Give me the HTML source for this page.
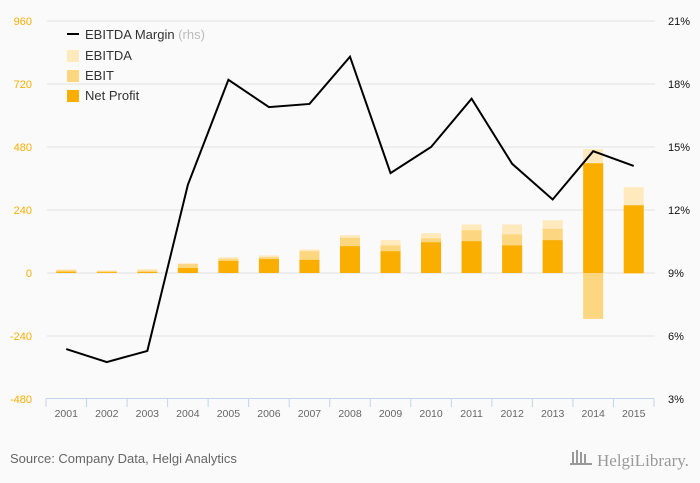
<!DOCTYPE html>
<html><head><meta charset="utf-8"><style>
body{margin:0;background:#fafafa;font-family:"Liberation Sans",sans-serif;}
svg{display:block}
</style></head><body>
<svg id="c" width="700" height="483" font-family="Liberation Sans, sans-serif">
<rect width="700" height="483" fill="#fafafa"/>
<g id="grid"></g><g id="bars"></g><g id="line"></g><g id="axes"></g>
<g>
<line x1="67" y1="34" x2="79" y2="34" stroke="#000" stroke-width="2"/>
<text x="85" y="39" font-size="13" fill="#333">EBITDA Margin <tspan fill="#bbb">(rhs)</tspan></text>
<rect x="67" y="50" width="12" height="12" fill="#ffe9bd"/>
<text x="85" y="60" font-size="13" fill="#333">EBITDA</text>
<rect x="67" y="70" width="12" height="12" fill="#fdd680"/>
<text x="85" y="80" font-size="13" fill="#333">EBIT</text>
<rect x="67" y="90" width="12" height="12" fill="#f9ae00"/>
<text x="85" y="100" font-size="13" fill="#333">Net Profit</text>
</g>
<text x="10" y="463" font-size="13" fill="#666">Source: Company Data, Helgi Analytics</text>
<text x="597" y="466" font-size="17" fill="#999" font-family="Liberation Serif, serif">HelgiLibrary.</text>
<g fill="#999"><rect x="572" y="452" width="2" height="12"/><rect x="576" y="450" width="2" height="14"/><rect x="580" y="452" width="2" height="12"/><rect x="584" y="454" width="2" height="10"/><rect x="570" y="463" width="22" height="2"/></g>
</svg>
<script>
const years=["2001","2002","2003","2004","2005","2006","2007","2008","2009","2010","2011","2012","2013","2014","2015"];
const ebitda=[14,10,15,37,60,67,90,144,125,152,185,185,201,472,327];
const ebit=[10,7,9,34,54,60,83,134,105,132,163,147,168,-175,-3];
const netProfit=[5,3,4,19,46,53,50,102,83,117,121,105,125,418,258];
const margin=[5.38,4.76,5.29,13.2,18.2,16.9,17.05,19.3,13.76,15.0,17.3,14.2,12.5,14.8,14.1];
const leftTicks=[960,720,480,240,0,-240,-480];
const rightTicks=[21,18,15,12,9,6,3];
const NS="http://www.w3.org/2000/svg";
const x0=46,x1=654,yTop=21,yBot=399;
const bw=(x1-x0)/years.length;
function yL(v){return yTop+(960-v)/1440*(yBot-yTop);}
function yR(v){return yTop+(21-v)/18*(yBot-yTop);}
function xC(i){return x0+bw*(i+0.5);}
function mk(t,a,p){const e=document.createElementNS(NS,t);for(const k in a)e.setAttribute(k,a[k]);p.appendChild(e);return e;}
const grid=document.getElementById('grid'),axes=document.getElementById('axes'),bars=document.getElementById('bars'),line=document.getElementById('line');
leftTicks.forEach((v,i)=>{
 if(v!==-480){const g=mk('line',{x1:47,x2:655,y1:yL(v),y2:yL(v),stroke:'#e3e3e3','stroke-width':1},grid);
 
 }
 const t=mk('text',{x:32,y:yL(v)+4,'text-anchor':'end','font-size':11,fill:'#f9ae00'},axes);t.textContent=v;
 
 
});
rightTicks.forEach(v=>{
 const t=mk('text',{x:668,y:yR(v)+4,'font-size':11,fill:'#111'},axes);t.textContent=v+'%';
 
 
});
const ax=mk('line',{x1:x0,x2:x1,y1:398.5,y2:398.5,stroke:'#c5d3ea'},axes);


for(let i=0;i<=years.length;i++){const tk=mk('line',{x1:x0+bw*i,x2:x0+bw*i,y1:398.5,y2:407,stroke:'#c5d3ea'},axes);
 
 }
years.forEach((y,i)=>{
 const t=mk('text',{x:xC(i),y:417,'text-anchor':'middle','font-size':10.5,fill:'#666'},axes);t.textContent=y;
 
 
});
function bar(v,i,col,name){
 const a=yL(0),b=yL(v);
 const r=mk('rect',{x:xC(i)-10,y:Math.min(a,b),width:20,height:Math.abs(a-b),fill:col},bars);
 
 
}
years.forEach((y,i)=>{bar(ebitda[i],i,'#ffe9bd','bar-ebitda');bar(ebit[i],i,'#fdd680','bar-ebit');bar(netProfit[i],i,'#f9ae00','bar-net-profit');});
const p=mk('polyline',{points:margin.map((v,i)=>xC(i)+','+yR(v)).join(' '),fill:'none',stroke:'#000','stroke-width':2},line);


</script>
</body></html>
